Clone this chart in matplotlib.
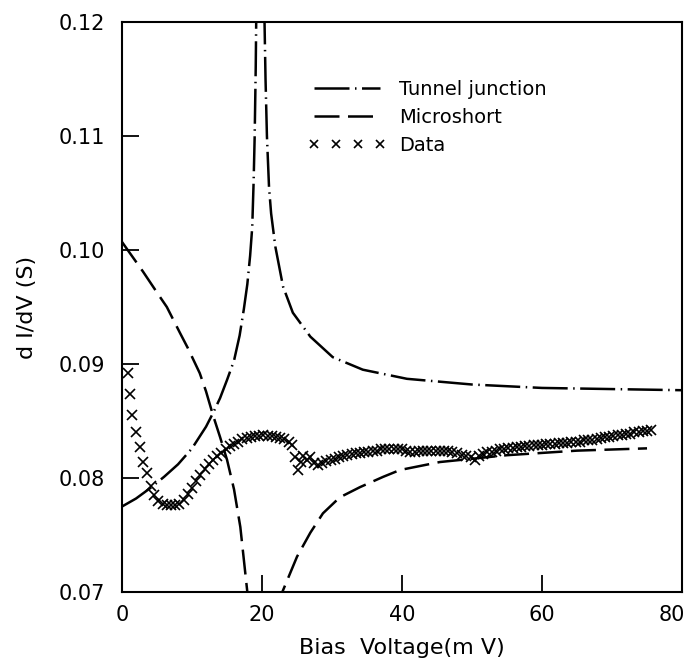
import matplotlib
matplotlib.use("Agg")
import matplotlib.pyplot as plt
from matplotlib.lines import Line2D
from matplotlib.transforms import ScaledTranslation

# Tunnel junction curve (dash-dot)
tunnel_v = [0, 2, 4, 6, 8, 10, 12, 13, 14, 15, 16, 16.8, 17.4, 17.9, 18.3,
            18.6, 18.8, 18.95, 19.1, 19.2,
            20.3, 20.5, 20.7, 21.0, 21.3, 21.9, 23.0, 24.4, 26.9, 30.1,
            34.4, 40.7, 50, 60, 70, 80]
tunnel_g = [0.0775, 0.0782, 0.0791, 0.0801, 0.0812, 0.0826, 0.0845, 0.0857,
            0.0870, 0.0886, 0.0903, 0.0925, 0.0948, 0.0970, 0.0995,
            0.1020, 0.1060, 0.1100, 0.1160, 0.1220,
            0.1220, 0.1150, 0.1100, 0.1055, 0.1032, 0.1003, 0.0968, 0.0945,
            0.0924, 0.0906, 0.0895, 0.0887, 0.0882, 0.0879, 0.0878, 0.0877]

# Microshort curve (dashed)
micro_v = [0, 3, 5.4, 6.4, 8.3, 9.4, 11.1, 12.0, 13.0, 14.0, 15.0, 16.0,
           16.9, 17.9, 18.3,
           22.6, 22.9, 25.0, 26.9, 28.7, 31.1, 34.0, 37.3, 39.7, 45.4,
           55, 65, 75]
micro_g = [0.1007, 0.0981, 0.0959, 0.0950, 0.0927, 0.0914, 0.0892, 0.0876,
           0.0855, 0.0836, 0.0816, 0.0790, 0.0757, 0.0700, 0.0680,
           0.0680, 0.0700, 0.0731, 0.0752, 0.0769, 0.0783, 0.0792, 0.0801,
           0.0807, 0.0814, 0.0820, 0.0824, 0.0826]

# Measured data (x markers)
data_v = [0.9, 1.1, 1.4, 2.0, 2.6, 3.0, 3.5, 4.1, 4.6, 5.2, 5.8, 6.4, 7.0,
          7.6, 8.2, 8.8, 9.4, 10.0, 10.6, 11.2, 11.8, 12.4, 13.0, 13.6,
          14.2, 14.8, 15.4, 16.0, 16.6, 17.2, 17.8, 18.4, 19.0, 19.6, 20.2,
          20.8, 21.4, 22.0, 22.6, 23.2, 23.8, 24.3, 24.7, 25.1, 25.5, 25.9,
          26.4, 26.9, 27.4, 28.0, 28.6, 29.2, 29.8, 30.4, 31.0, 31.6, 32.2,
          32.8, 33.4, 34.0, 34.6, 35.2, 35.8, 36.4, 37.0, 37.6, 38.2, 38.8,
          39.4, 40.0, 40.6, 41.2, 41.8, 42.4, 43.0, 43.6, 44.2, 44.8, 45.4,
          46.0, 46.6, 47.2, 47.8, 48.5, 49.2, 49.8, 50.4, 51.0, 51.6, 52.2,
          52.8, 53.4, 54.0, 54.6, 55.2, 55.8, 56.4, 57.0, 57.6, 58.2, 58.8,
          59.4, 60.0, 60.6, 61.2, 61.8, 62.4, 63.0, 63.6, 64.2, 64.8, 65.4,
          66.0, 66.6, 67.2, 67.8, 68.4, 69.0, 69.6, 70.2, 70.8, 71.4, 72.0,
          72.6, 73.2, 73.8, 74.4, 75.0, 75.5]
data_g = [0.0892, 0.0874, 0.0855, 0.0840, 0.0827, 0.0814, 0.0804, 0.0793,
          0.0785, 0.0780, 0.0777, 0.0776, 0.0776, 0.0776, 0.0777, 0.0781,
          0.0786, 0.0791, 0.0797, 0.0803, 0.0808, 0.0812, 0.0816, 0.0819,
          0.0822, 0.0825, 0.0828, 0.0830, 0.0832, 0.0834, 0.0835, 0.0836,
          0.0837, 0.0837, 0.0838, 0.0837, 0.0837, 0.0836, 0.0835, 0.0834,
          0.0832, 0.0829, 0.0818, 0.0807, 0.0814, 0.0819, 0.0816, 0.0818,
          0.0813, 0.0811, 0.0813, 0.0815, 0.0816, 0.0817, 0.0818, 0.0819,
          0.0820, 0.0821, 0.0822, 0.0822, 0.0823, 0.0823, 0.0824, 0.0824,
          0.0825, 0.0825, 0.0825, 0.0825, 0.0825, 0.0825, 0.0824, 0.0823,
          0.0823, 0.0824, 0.0824, 0.0824, 0.0824, 0.0824, 0.0824, 0.0824,
          0.0824, 0.0823, 0.0822, 0.0820, 0.0819, 0.0818, 0.0816, 0.0819,
          0.0821, 0.0823, 0.0823, 0.0824, 0.0825, 0.0825, 0.0826, 0.0826,
          0.0827, 0.0827, 0.0828, 0.0828, 0.0829, 0.0829, 0.0829, 0.0830,
          0.0830, 0.0830, 0.0831, 0.0831, 0.0831, 0.0832, 0.0832, 0.0832,
          0.0833, 0.0833, 0.0833, 0.0834, 0.0835, 0.0836, 0.0836, 0.0837,
          0.0838, 0.0838, 0.0839, 0.0839, 0.0840, 0.0840, 0.0841, 0.0841,
          0.0842]

x_ticks = [0, 20, 40, 60, 80]
y_ticks = [0.07, 0.08, 0.09, 0.10, 0.11, 0.12]
y_ticklabels = ["0.07", "0.08", "0.09", "0.10", "0.11", "0.12"]

plt.rcParams['font.family'] = ['DejaVu Sans']

fig = plt.figure(figsize=(6.91, 6.58), dpi=100)
ax = fig.add_axes([0.1766, 0.1003, 0.8104, 0.8663])

dashdot = (14, 2.2, 0.6, 2.2)
dashed = (10, 3.4)

ax.plot(tunnel_v, tunnel_g, color='black', lw=1.8, dashes=dashdot)
ax.plot(micro_v, micro_g, color='black', lw=1.8, dashes=dashed)
ax.plot(data_v, data_g, linestyle='none', marker='x', color='black',
        markersize=7, markeredgewidth=1.2)

ax.set_xlim(0, 80)
ax.set_ylim(0.07, 0.12)
ax.set_xticks(x_ticks)
ax.set_yticks(y_ticks)
ax.set_yticklabels(y_ticklabels)
ax.tick_params(axis='both', direction='in', length=12, width=1.3,
               labelsize=15)
ax.tick_params(axis='x', pad=9)
ax.tick_params(axis='y', pad=12)
for s in ax.spines.values():
    s.set_linewidth(1.5)

# keep the last x label inside the figure, as in the original
last = ax.get_xticklabels()[-1]
last.set_transform(last.get_transform() +
                   ScaledTranslation(-7 / 72, 0, fig.dpi_scale_trans))

ax.set_xlabel("Bias  Voltage(m V)", fontsize=16, labelpad=10)
ax.set_ylabel("d I/dV (S)", fontsize=16, labelpad=16)

handles = [
    Line2D([], [], color='black', lw=1.8, dashes=dashdot),
    Line2D([], [], color='black', lw=1.8, dashes=dashed),
    Line2D([], [], color='black', linestyle='none', marker='x',
           markersize=6, markeredgewidth=1.2),
]
ax.legend(handles, ["Tunnel junction", "Microshort", "Data"],
          loc='upper left', bbox_to_anchor=(0.332, 0.898), frameon=False,
          fontsize=14, handlelength=4.0, handletextpad=0.7,
          labelspacing=0.45, borderpad=0, borderaxespad=0, numpoints=4)

fig.savefig("out.png", dpi=100)
